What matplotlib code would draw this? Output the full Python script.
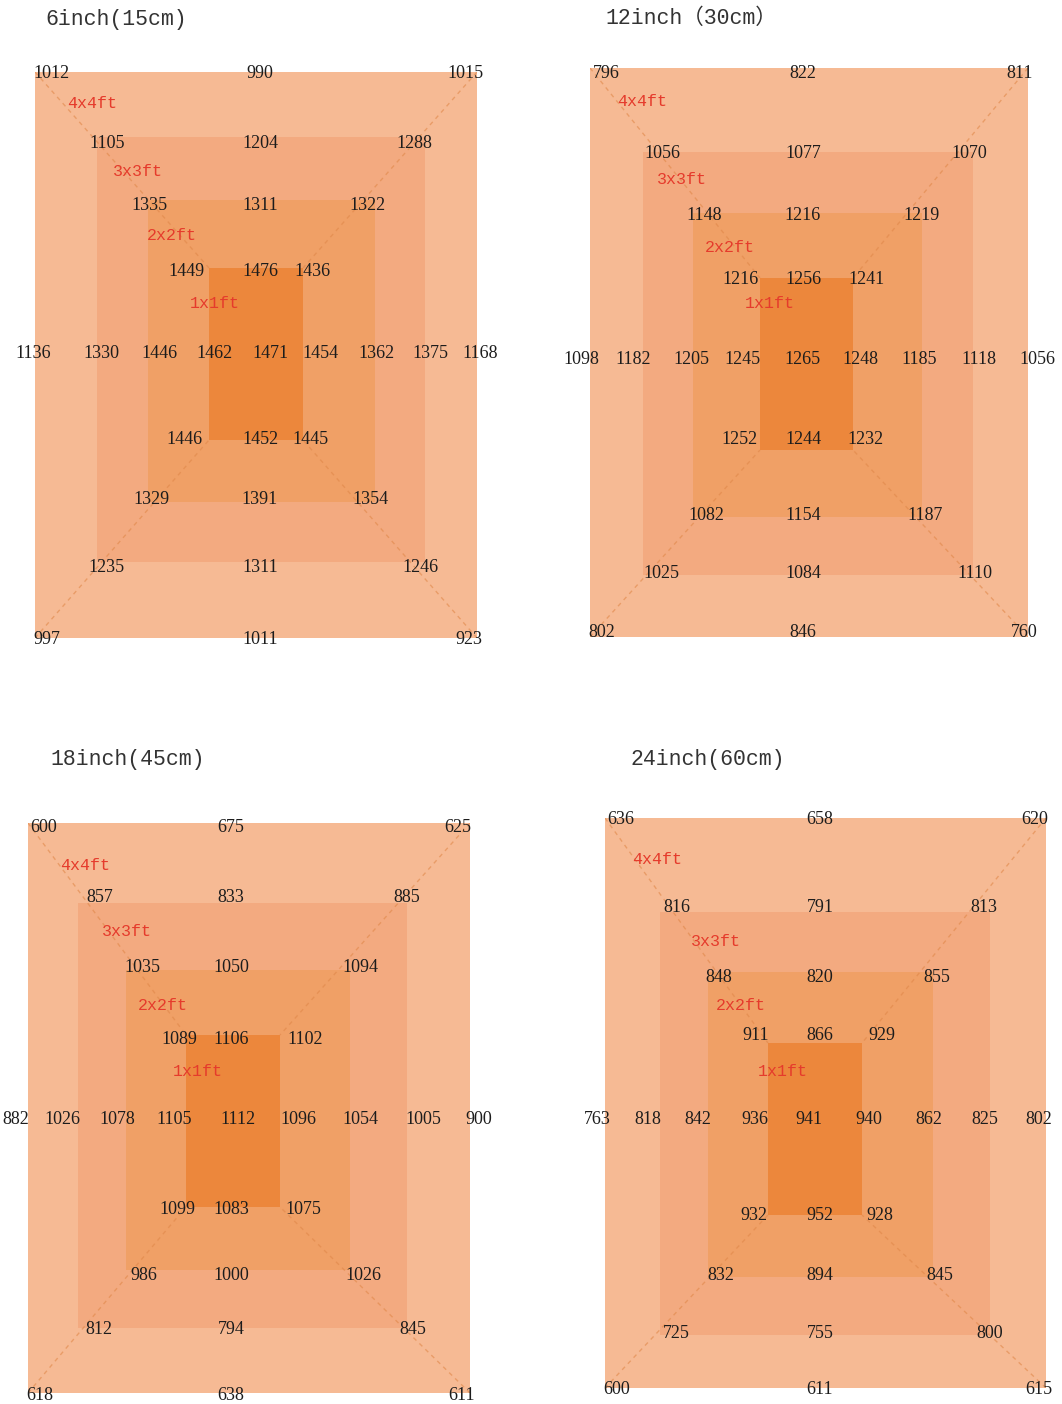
import matplotlib.pyplot as plt
from matplotlib.patches import Rectangle

# ---- data: measured readings, four pot sizes ----
titles = ['6inch(15cm)', '12inch（30cm）', '18inch(45cm)', '24inch(60cm)']
ring_names = ['4x4ft', '3x3ft', '2x2ft', '1x1ft']

# rows above the centre line, outer ring -> inner ring, (left, middle, right)
top_6in = [[1012, 990, 1015], [1105, 1204, 1288], [1335, 1311, 1322], [1449, 1476, 1436]]
top_12in = [[796, 822, 811], [1056, 1077, 1070], [1148, 1216, 1219], [1216, 1256, 1241]]
top_18in = [[600, 675, 625], [857, 833, 885], [1035, 1050, 1094], [1089, 1106, 1102]]
top_24in = [[636, 658, 620], [816, 791, 813], [848, 820, 855], [911, 866, 929]]

# centre line, left -> right
mid_6in = [1136, 1330, 1446, 1462, 1471, 1454, 1362, 1375, 1168]
mid_12in = [1098, 1182, 1205, 1245, 1265, 1248, 1185, 1118, 1056]
mid_18in = [882, 1026, 1078, 1105, 1112, 1096, 1054, 1005, 900]
mid_24in = [763, 818, 842, 936, 941, 940, 862, 825, 802]

# rows below the centre line, outer ring -> inner ring
bot_6in = [[997, 1011, 923], [1235, 1311, 1246], [1329, 1391, 1354], [1446, 1452, 1445]]
bot_12in = [[802, 846, 760], [1025, 1084, 1110], [1082, 1154, 1187], [1252, 1244, 1232]]
bot_18in = [[618, 638, 611], [812, 794, 845], [986, 1000, 1026], [1099, 1083, 1075]]
bot_24in = [[600, 611, 615], [725, 755, 800], [832, 894, 845], [932, 952, 928]]

tops = [top_6in, top_12in, top_18in, top_24in]
mids = [mid_6in, mid_12in, mid_18in, mid_24in]
bots = [bot_6in, bot_12in, bot_18in, bot_24in]

# ---- layout (pixels) ----
FIG_W, FIG_H = 1062, 1404
# outer rectangle of each panel: left, top, right, bottom
panel_boxes = [(35, 72, 477, 638), (590, 68, 1028, 637),
               (28, 823, 470, 1393), (605, 818, 1046, 1388)]
# 3x3, 2x2, 1x1 rectangles relative to the outer one, per panel
panel_inner = [
    [(62, 65, 390, 490), (113, 128, 340, 430), (174, 196, 268, 368)],
    [(53, 84, 383, 507), (103, 145, 332, 449), (170, 210, 263, 382)],
    [(50, 80, 379, 505), (98, 147, 322, 447), (158, 212, 252, 384)],
    [(55, 94, 385, 517), (103, 154, 328, 459), (163, 225, 257, 397)],
]
ring_colors = ['#F6BA94', '#F3AA80', '#F0A066', '#EC873C']

# row heights per panel: 4 top rows (outer->inner), centre, 4 bottom rows (outer->inner)
panel_top_y = [[0, 69, 132, 198], [3, 83, 145, 209], [3, 73, 142, 215], [0, 87, 158, 216]]
panel_mid_y = [279, 290, 294, 299]
panel_bot_y = [[565, 494, 426, 366], [563, 503, 446, 370], [571, 505, 451, 384], [570, 514, 455, 395]]
panel_mid_x = [[-2, 66, 124, 179, 235, 285, 341, 395, 445],
               [-9, 43, 101, 152, 212, 270, 329, 389, 447],
               [-12, 34, 89, 146, 210, 270, 332, 395, 451],
               [-8, 43, 93, 150, 204, 264, 324, 380, 434]]
panel_centre_x = [225, 213, 203, 215]
corner_x_top = [[16, 430], [72, 379], [114, 332], [151, 277]]
corner_x_bot = [[12, 434], [71, 385], [116, 335], [149, 275]]
panel_name_pos = [[(57, 32), (103, 100), (137, 164), (180, 231)],
                  [(52, 34), (92, 112), (140, 179), (180, 235)],
                  [(57, 42), (99, 109), (135, 182), (170, 249)],
                  [(52, 41), (111, 124), (136, 188), (178, 254)]]
title_offsets = [(10, -53), (15, -50), (22, -63), (25, -58)]
dy = 2  # visual centre of digits sits a little above the text box centre

num_style = dict(family='Liberation Serif', fontsize=13, color='#1c1c1c',
                 ha='center', va='center', zorder=5)
name_style = dict(family='Liberation Mono', fontsize=12, color='#e53b2c',
                  ha='center', va='center', zorder=5)

fig = plt.figure(figsize=(FIG_W / 100, FIG_H / 100), dpi=100)

for i, (l, t, r, b) in enumerate(panel_boxes):
    w, h = r - l, b - t
    ax = fig.add_axes([l / FIG_W, 1 - b / FIG_H, w / FIG_W, h / FIG_H])
    ax.set_xlim(0, w)
    ax.set_ylim(h, 0)
    ax.set_axis_off()

    rects = [(0, 0, w, h)] + panel_inner[i]
    for (x0, y0, x1, y1), c in zip(rects, ring_colors):
        ax.add_patch(Rectangle((x0, y0), x1 - x0, y1 - y0, facecolor=c,
                               edgecolor='none', zorder=1))

    # dashed diagonals from the outer corners to the 1x1 corners
    ix0, iy0, ix1, iy1 = panel_inner[i][-1]
    for (ox, oy), (px, py) in [((0, 0), (ix0, iy0)), ((w, 0), (ix1, iy0)),
                               ((0, h), (ix0, iy1)), ((w, h), (ix1, iy1))]:
        ax.plot([ox, px], [oy, py], color='#e0884a', lw=1.0, ls=(0, (3, 3)),
                alpha=0.6, zorder=2)

    cx = panel_centre_x[i]
    for k in range(4):
        xs_top = [corner_x_top[k][0], cx, corner_x_top[k][1]]
        xs_bot = [corner_x_bot[k][0], cx, corner_x_bot[k][1]]
        for j in range(3):
            ax.text(xs_top[j], panel_top_y[i][k] + dy, str(tops[i][k][j]), **num_style)
            ax.text(xs_bot[j], panel_bot_y[i][k] + dy, str(bots[i][k][j]), **num_style)
        nx, ny = panel_name_pos[i][k]
        ax.text(nx, ny, ring_names[k], **name_style)
    for j, v in enumerate(mids[i]):
        ax.text(panel_mid_x[i][j], panel_mid_y[i] + dy, str(v), **num_style)

    ax.text(title_offsets[i][0], title_offsets[i][1], titles[i], ha='left', va='center',
            fontsize=15.5, color='#333333',
            family=['Liberation Mono', 'Noto Sans CJK SC'])

fig.savefig('out.png', dpi=100, facecolor='white')
